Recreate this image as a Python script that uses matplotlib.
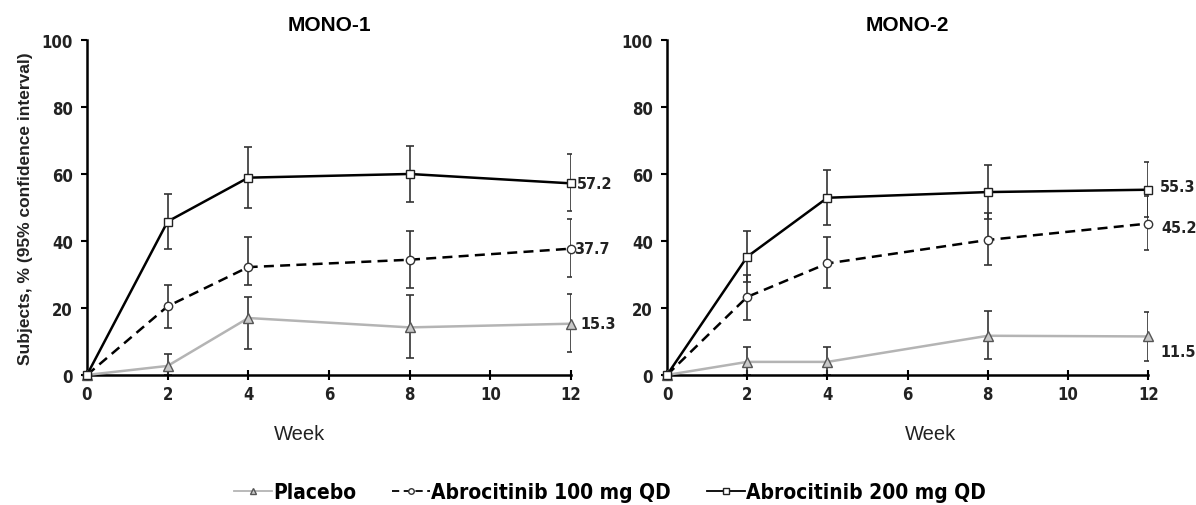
import numpy as np
import matplotlib
matplotlib.use('Agg')
import matplotlib.pyplot as plt

plt.rcParams['font.family'] = ['DejaVu Sans']
plt.rcParams['font.stretch'] = 'condensed'

# Data
weeks = [0, 2, 4, 8, 12]
titles = ['MONO-1', 'MONO-2']

# MONO-1
m1_pbo = [0, 2.7, 17.0, 14.2, 15.3]
m1_pbo_lo = [0, 0, 7.8, 5.1, 6.8]
m1_pbo_hi = [0, 6.3, 23.4, 23.9, 24.2]
m1_100 = [0, 20.5, 32.2, 34.4, 37.7]
m1_100_lo = [0, 13.9, 26.9, 25.9, 29.2]
m1_100_hi = [0, 26.9, 41.1, 43.1, 46.6]
m1_200 = [0, 45.8, 58.9, 60.0, 57.2]
m1_200_lo = [0, 37.6, 49.7, 51.7, 49.0]
m1_200_hi = [0, 54.0, 68.2, 68.4, 66.0]

# MONO-2
m2_pbo = [0, 3.9, 3.9, 11.7, 11.5]
m2_pbo_lo = [0, 0, 0, 4.8, 4.1]
m2_pbo_hi = [0, 8.4, 8.4, 19.2, 18.9]
m2_100 = [0, 23.3, 33.3, 40.3, 45.2]
m2_100_lo = [0, 16.4, 25.9, 32.8, 37.3]
m2_100_hi = [0, 29.9, 41.1, 48.3, 53.4]
m2_200 = [0, 35.3, 52.9, 54.6, 55.3]
m2_200_lo = [0, 27.9, 44.8, 46.5, 47.2]
m2_200_hi = [0, 43.0, 61.1, 62.7, 63.7]

end_labels = [['15.3', '37.7', '57.2'], ['11.5', '45.2', '55.3']]

panels = [
    [(m1_pbo, m1_pbo_lo, m1_pbo_hi), (m1_100, m1_100_lo, m1_100_hi), (m1_200, m1_200_lo, m1_200_hi)],
    [(m2_pbo, m2_pbo_lo, m2_pbo_hi), (m2_100, m2_100_lo, m2_100_hi), (m2_200, m2_200_lo, m2_200_hi)],
]

series_names = ['Placebo', 'Abrocitinib 100 mg QD', 'Abrocitinib 200 mg QD']
styles = [
    dict(color='#b4b4b4', ls='-', marker='^', mfc='#c8c8c8', mec='#555555', ms=6.5, lw=1.8),
    dict(color='black', ls=(0, (4, 2.5)), marker='o', mfc='white', mec='#333333', ms=6, lw=1.8),
    dict(color='black', ls='-', marker='s', mfc='white', mec='#222222', ms=6, lw=1.8),
]

fig = plt.figure(figsize=(11.96, 5.06), dpi=100)
ax1 = fig.add_axes([0.0727, 0.257, 0.4047, 0.662])
ax2 = fig.add_axes([0.5577, 0.257, 0.4023, 0.662])

# label offsets (points) per panel/series
label_dx = [[7, 2, 4], [8.5, 9.5, 8.5]]
label_dy = [[0, 0, 0], [-10.5, -3, 2.5]]
week_x = [0.44, 0.547]

for p, ax in enumerate([ax1, ax2]):
    for s, (vals, lo, hi) in enumerate(panels[p]):
        vals = np.array(vals)
        err = [vals - np.array(lo), np.array(hi) - vals]
        ax.errorbar(weeks[1:], vals[1:], yerr=[err[0][1:], err[1][1:]], fmt='none',
                    ecolor='#333333', elinewidth=1.2, capsize=3, capthick=1.2, zorder=2)
        ax.plot(weeks, vals, clip_on=False, zorder=3 + s, **styles[s])
        ax.annotate(end_labels[p][s], (weeks[-1], vals[-1]),
                    xytext=(label_dx[p][s], label_dy[p][s]), textcoords='offset points',
                    ha='left', va='center', fontsize=11.5, fontweight='bold', color='#222222')

    ax.set_xlim(0, 12)
    ax.set_ylim(0, 100)
    ax.set_xticks([0, 2, 4, 6, 8, 10, 12])
    ax.set_yticks([0, 20, 40, 60, 80, 100])
    for sp in ['top', 'right']:
        ax.spines[sp].set_visible(False)
    ax.spines['left'].set_linewidth(1.8)
    ax.spines['bottom'].set_linewidth(1.8)
    ax.tick_params(axis='x', direction='inout', length=7, width=1.5, labelsize=12, pad=4)
    ax.tick_params(axis='y', direction='out', length=4, width=1.5, labelsize=12, pad=6)
    for lab in ax.get_xticklabels() + ax.get_yticklabels():
        lab.set_fontweight('bold')
        lab.set_color('#222222')
    ax.set_title(titles[p], fontsize=15, fontweight='bold', pad=7,
                 family=['Liberation Sans', 'DejaVu Sans'], stretch='normal')
    ax.set_xlabel('Week', fontsize=14.5, family=['Liberation Sans', 'DejaVu Sans'],
                  stretch='normal', color='#222222')
    ax.xaxis.set_label_coords(week_x[p], -0.147)

ax1.set_ylabel('Subjects, % (95% confidence interval)', fontsize=12.5, fontweight='bold',
               family=['Liberation Sans', 'DejaVu Sans'], stretch='normal', labelpad=6,
               color='#222222')

leg_handles = []
for st in styles:
    st2 = dict(st)
    st2['ms'] = 4
    st2['lw'] = 1.3
    leg_handles.append(plt.Line2D([], [], **st2))
fig.legend(leg_handles, series_names, loc='center', bbox_to_anchor=(0.51, 0.026), ncol=3,
           frameon=False, handlelength=1.8, handletextpad=0.05, columnspacing=1.75,
           prop={'size': 15, 'weight': 'bold', 'stretch': 'condensed'})

fig.savefig('out.png', dpi=100)
